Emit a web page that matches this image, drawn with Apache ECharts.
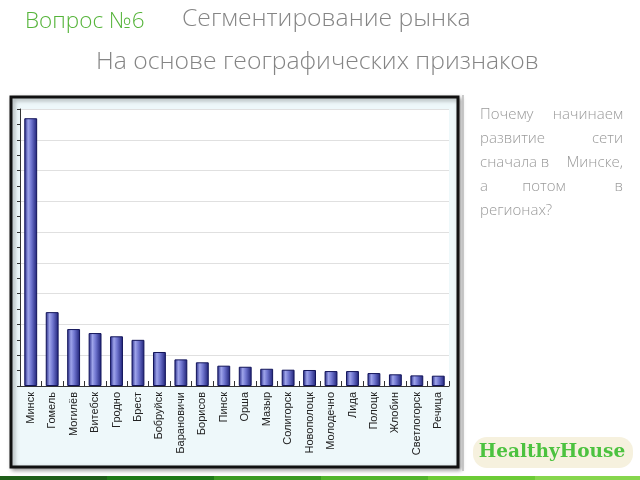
<!DOCTYPE html>
<html>
<head>
<meta charset="utf-8">
<script src="https://cdn.jsdelivr.net/npm/echarts@6/dist/echarts.min.js"></script>
<style>
html,body{margin:0;padding:0;background:#fff;}
#c{width:640px;height:480px;}
</style>
</head>
<body>
<div id="c"></div>
<script>
const categories = ['Минск','Гомель','Могилёв','Витебск','Гродно','Брест','Бобруйск','Барановичи','Борисов','Пинск','Орша','Мазыр','Солигорск','Новополоцк','Молодечно','Лида','Полоцк','Жлобин','Светлогорск','Речица'];
const values = [17.4, 4.8, 3.7, 3.44, 3.23, 3.0, 2.21, 1.73, 1.54, 1.32, 1.25, 1.12, 1.06, 1.04, 0.97, 0.97, 0.84, 0.76, 0.69, 0.67];
const yMax = 18;
const titleMain = 'Сегментирование рынка';
const titleSub = 'На основе географических признаков';
const question = 'Вопрос №6';
const sideLines = [['Почему','начинаем'],['развитие','сети'],['сначала','в','Минске,'],['а','потом','в'],['регионах?']];
const logoText = 'HealthyHouse';

const chart = echarts.init(document.getElementById('c'), null, {renderer:'canvas'});

const textStyleBase = {fontFamily:'"Open Sans", sans-serif'};
const graphics = [];
// chart frame
graphics.push({type:'rect', z:-10, shape:{x:11, y:97, width:447, height:370},
  style:{fill:'#eef8fa', stroke:'#111', lineWidth:3, shadowBlur:4, shadowColor:'rgba(0,0,0,0.35)', shadowOffsetX:2, shadowOffsetY:2}});
// side divider
graphics.push({type:'line', shape:{x1:463, y1:95, x2:463, y2:471}, style:{stroke:'#bbb', lineWidth:1.5}});
// titles
graphics.push({type:'text', x:25, y:22, style:Object.assign({text:question, fill:'#55b43a', fontSize:22.5, fontWeight:300, verticalAlign:'middle'}, textStyleBase)});
graphics.push({type:'text', x:182, y:19, style:Object.assign({text:titleMain, fill:'#858585', fontSize:24.7, fontWeight:300, verticalAlign:'middle'}, textStyleBase)});
graphics.push({type:'text', x:96, y:62, style:Object.assign({text:titleSub, fill:'#858585', fontSize:24.7, fontWeight:300, verticalAlign:'middle'}, textStyleBase)});
// side text (justified)
const lineY = [115, 139, 163, 187, 211];
const sx0 = 480, sx1 = 623;
const midX = {2:545, 3:544};
sideLines.forEach((words, i) => {
  const n = words.length;
  words.forEach((w, j) => {
    let x, align;
    if (j === 0) { x = sx0; align = 'left'; }
    else if (j === n - 1) { x = sx1; align = 'right'; }
    else { x = midX[i]; align = 'center'; }
    graphics.push({type:'text', x:x, y:lineY[i], style:Object.assign({text:w, fill:'#9a9a9a', fontSize:15, align:align, verticalAlign:'middle', fontWeight:300}, textStyleBase)});
  });
});
// logo
graphics.push({type:'rect', shape:{x:473, y:437, width:160, height:31, r:14}, style:{fill:'#f6f1de'}});
graphics.push({type:'text', x:552, y:452.5, style:{text:logoText, fill:'#4cc23f', fontSize:18.5, fontWeight:'bold', fontFamily:'"DejaVu Serif", serif', align:'center', verticalAlign:'middle'}});
// bottom strip
const stripColors = ['#1f5e19','#1f7a18','#3b9a22','#52b52c','#6ccb36','#86d64d'];
stripColors.forEach((c, i) => {
  graphics.push({type:'rect', shape:{x:i*107, y:476, width:107, height:4}, style:{fill:c}});
});

const option = {
  animation:false,
  backgroundColor:'#fff',
  grid:{left:20, top:109, width:429, height:277, show:true, backgroundColor:'#fff', borderWidth:0},
  xAxis:{type:'category', data:categories,
    axisLine:{lineStyle:{color:'#333', width:1}},
    axisTick:{show:true, inside:true, length:5, lineStyle:{color:'#333'}},
    axisLabel:{rotate:90, fontSize:11, color:'#222', fontFamily:'"Liberation Sans", Arial, sans-serif', margin:6, interval:0},
    splitLine:{show:false}},
  yAxis:{type:'value', min:0, max:yMax, interval:2,
    axisLine:{show:true, lineStyle:{color:'#333', width:1}},
    axisTick:{show:true, length:3, lineStyle:{color:'#333'}},
    minorTick:{show:true, splitNumber:2, length:3, lineStyle:{color:'#333'}},
    axisLabel:{show:false},
    splitLine:{show:true, lineStyle:{color:'#e0e0e0', width:1}}},
  series:[{type:'bar', data:values, barWidth:'60%',
    itemStyle:{
      color:new echarts.graphic.LinearGradient(0,0,1,0,[
        {offset:0, color:'#1e2280'},
        {offset:0.3, color:'#9ea4ea'},
        {offset:0.55, color:'#6f75cf'},
        {offset:1, color:'#1c1f75'}]),
      borderColor:'#12145a', borderWidth:1}}],
  graphic:graphics
};
chart.setOption(option);
</script>
</body>
</html>
